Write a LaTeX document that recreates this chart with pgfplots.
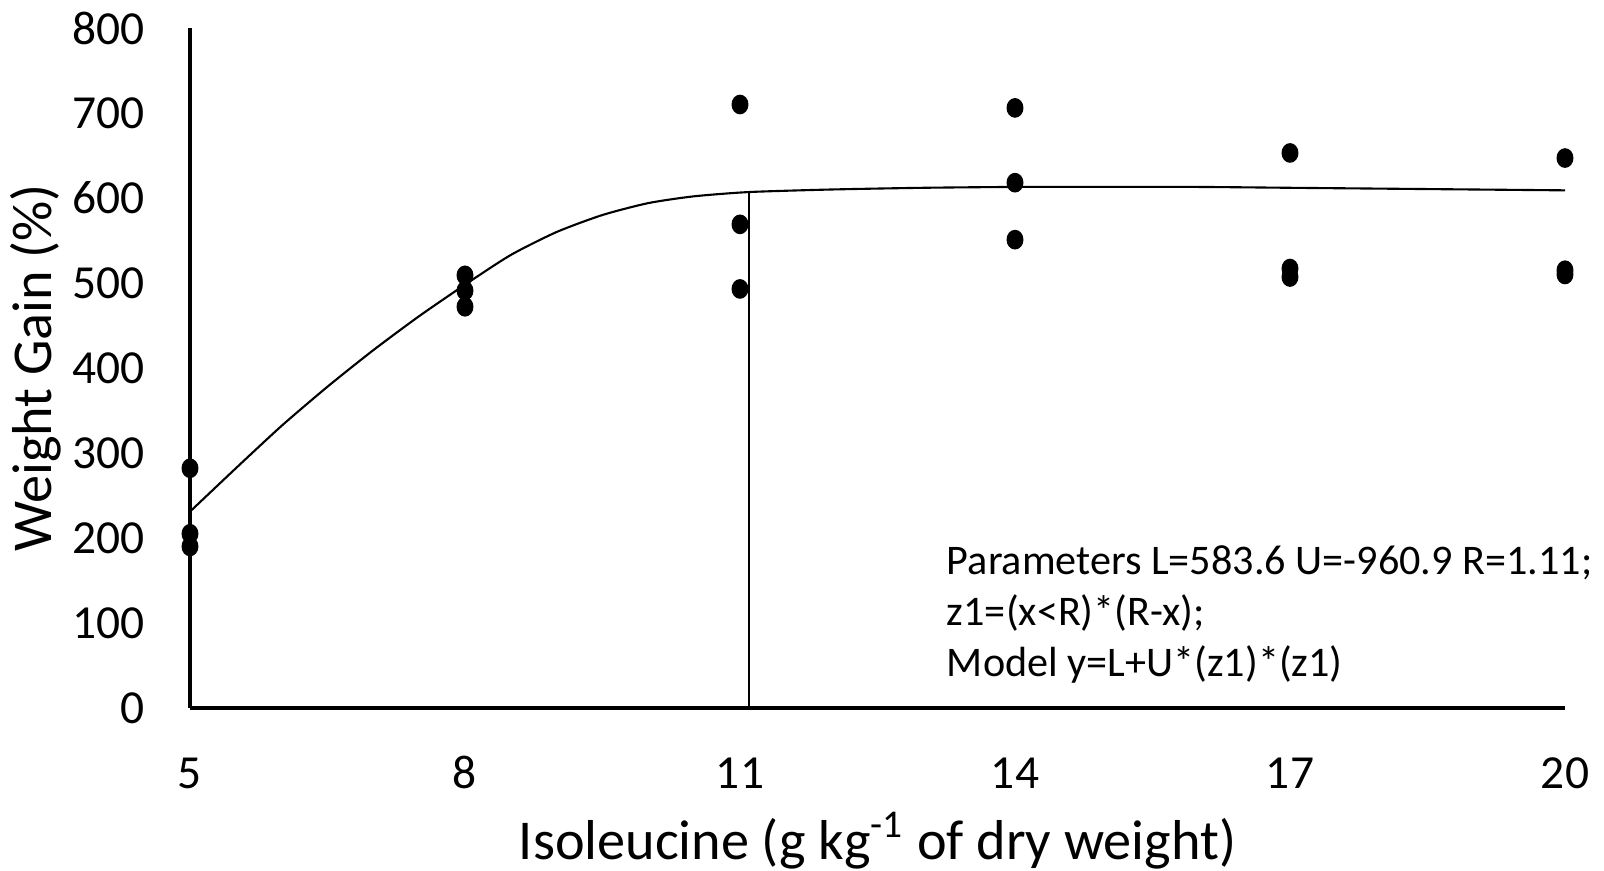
\documentclass[border=0pt]{standalone}
\usepackage{fontspec}
\setmainfont{Carlito}
\usepackage{pgfplots}
\pgfplotsset{compat=1.18}

\begin{document}
\begin{tikzpicture}
\begin{axis}[
    scale only axis,
    width=13.75cm, height=6.8cm,
    xmin=5, xmax=20, ymin=0, ymax=800,
    axis x line=bottom, axis y line=left,
    axis line style={-, line width=0.9pt},
    xtick={5,8,11,14,17,20},
    ytick={0,100,...,800},
    major tick length=0pt,
    /pgf/number format/assume math mode=true,
    tick label style={font=\fontsize{13.5}{16}\selectfont},
    xticklabel style={anchor=base, yshift=-0.81cm},
    yticklabel style={anchor=east, inner sep=0pt, xshift=-0.45cm},
    xlabel={Isoleucine (g kg\textsuperscript{-1} of dry weight)},
    ylabel={Weight Gain (\%)},
    label style={font=\fontsize{16}{19}\selectfont},
    xlabel style={at={(axis description cs:0.5,-0.1956)}, anchor=center},
    ylabel style={at={(axis description cs:-0.112,0.5)}, anchor=center},
    clip=false,
]
% fitted curve
\addplot[black, line width=0.6pt, smooth, tension=0.4] coordinates {
    (5,231) (5.5,282) (6,332) (6.5,378) (7,421) (7.5,461) (8,498)
    (8.5,533) (9,560) (9.5,580) (10,594) (10.5,602) (11.1,607)
    (12,610) (13,612) (14,613) (15,613) (16,613) (17,612) (18,611) (19,610) (20,609)
};
% breakpoint line
\addplot[black, line width=0.6pt] coordinates {(11.1,0) (11.1,607)};
% observations
\addplot[only marks, mark=*, mark size=2.6pt, mark options={black, xscale=0.85}] coordinates {
    (5,282) (5,205) (5,190)
    (8,509) (8,491) (8,472)
    (11,710) (11,569) (11,493)
    (14,706) (14,618) (14,551)
    (17,653) (17,517) (17,507)
    (20,647) (20,515) (20,510)
};
\node[anchor=west, align=left, inner sep=0pt, font=\fontsize{12}{14.5}\selectfont]
    at (axis cs:13.25,110) {Parameters L=583.6 U=-960.9 R=1.11;\\z1=(x<R)*(R-x);\\Model y=L+U*(z1)*(z1)};
\coordinate (sw) at (rel axis cs:0,0);
\coordinate (ne) at (rel axis cs:1,1);
\end{axis}
\pgfresetboundingbox
\path ([shift={(-1.90cm,-1.63cm)}]sw) rectangle ([shift={(0.39cm,0.28cm)}]ne);
\end{tikzpicture}
\end{document}
